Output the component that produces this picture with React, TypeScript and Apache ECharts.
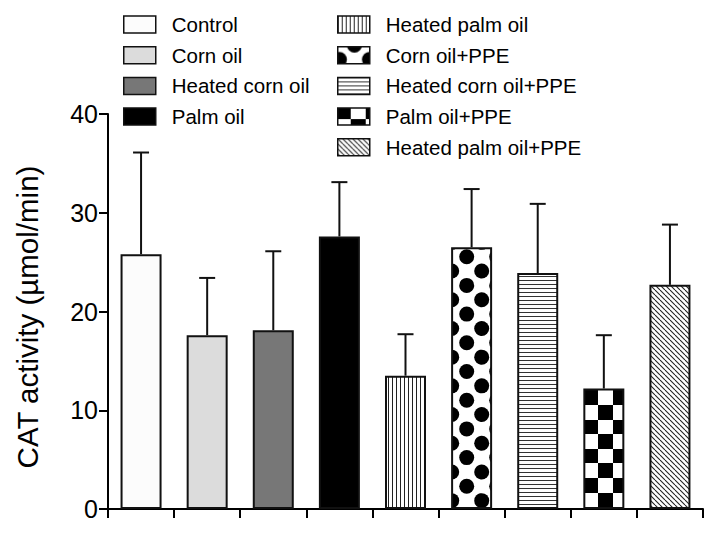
import React, { useEffect, useRef } from "react";
import * as echarts from "echarts";

const categories = [
  "Control",
  "Corn oil",
  "Heated corn oil",
  "Palm oil",
  "Heated palm oil",
  "Corn oil+PPE",
  "Heated corn oil+PPE",
  "Palm oil+PPE",
  "Heated palm oil+PPE",
];
const means = [25.8, 17.6, 18.1, 27.6, 13.5, 26.5, 23.9, 12.2, 22.7];
const sds = [10.3, 5.8, 8.0, 5.5, 4.2, 5.9, 7.0, 5.4, 6.1];
const yTicks = [0, 10, 20, 30, 40];
const leftLegend = categories.slice(0, 4);
const rightLegend = categories.slice(4);
const yTitle = "CAT activity (\u00b5mol/min)";

function tile(w: number, h: number, draw: (c: CanvasRenderingContext2D) => void) {
  const cv = document.createElement("canvas");
  cv.width = w;
  cv.height = h;
  const c = cv.getContext("2d")!;
  c.fillStyle = "#ffffff";
  c.fillRect(0, 0, w, h);
  draw(c);
  return { image: cv, repeat: "repeat", imageWidth: w, imageHeight: h } as any;
}

const par = (n: number) => ((n % 2) + 2) % 2;

export default function App() {
  const ref = useRef<HTMLDivElement>(null);
  useEffect(() => {
    if (!ref.current) return;
    const chart = echarts.init(ref.current, null, { renderer: "svg" });

    const vLines = tile(4, 4, (c) => {
      c.fillStyle = "#222";
      c.fillRect(0, 0, 1, 4);
    });
    // staggered dots: period 30 horizontally, 28.7 vertically
    const dots = tile(30, 287, (c) => {
      c.fillStyle = "#000";
      for (let k = -12; k <= 12; k++) {
        for (const dx of [-30, 0, 30]) {
          const ya = (256.7 % 287) + 28.7 * k;
          const yb = ya + 14.35;
          c.beginPath();
          c.arc(16.7 + dx, ya, 7.5, 0, Math.PI * 2);
          c.fill();
          c.beginPath();
          c.arc(1.7 + dx, yb, 7.5, 0, Math.PI * 2);
          c.fill();
        }
      }
    });
    const hLines = tile(4, 4, (c) => {
      c.fillStyle = "#333";
      c.fillRect(0, 0, 4, 1);
    });
    // checkerboard: cells 15 wide, 14.6 tall
    const checker = tile(30, 146, (c) => {
      c.fillStyle = "#000";
      for (let y = 0; y < 146; y++) {
        const r = Math.floor((y + 0.5 - 98.4) / 14.6);
        for (let x = 0; x < 30; x++) {
          const col = Math.floor((x + 0.5 - 13) / 15);
          if (par(r + col) === 0) c.fillRect(x, y, 1, 1);
        }
      }
    });
    const diag = tile(5, 5, (c) => {
      c.strokeStyle = "#222";
      c.lineWidth = 1.1;
      for (let k = -1; k <= 1; k++) {
        c.beginPath();
        c.moveTo(k * 5, 0);
        c.lineTo(k * 5 + 5, 5);
        c.stroke();
      }
    });

    const fills: any[] = ["#fcfcfc", "#dcdcdc", "#777777", "#000000", vLines, dots, hLines, checker, diag];

    const barSeries = categories.map((name, i) => ({
      name,
      type: "bar",
      barWidth: 41,
      barGap: "-100%",
      data: categories.map((_, j) => (j === i ? means[i] : "-")),
      itemStyle: { color: fills[i], borderColor: "#111", borderWidth: 2 },
      silent: true,
    }));

    const errData = means.map((m, i) => [i, m, sds[i]]);

    const legendCommon = {
      orient: "vertical",
      top: 14,
      padding: 0,
      itemWidth: 32,
      itemHeight: 17,
      itemGap: 9.7,
      icon: "rect",
      selectedMode: false,
      itemStyle: { borderColor: "#111", borderWidth: 1.5 },
      textStyle: {
        fontSize: 20.5,
        lineHeight: 20,
        color: "#000",
        fontFamily: "Liberation Sans, Arial, sans-serif",
        padding: [0, 0, 0, 11],
      },
    };

    chart.setOption({
      animation: false,
      backgroundColor: "#ffffff",
      grid: { left: 108, right: 16, top: 114, bottom: 25, containLabel: false },
      legend: [
        { ...legendCommon, left: 123, data: leftLegend },
        { ...legendCommon, left: 337, data: rightLegend },
      ],
      xAxis: {
        type: "category",
        data: categories,
        boundaryGap: true,
        axisLine: { lineStyle: { color: "#000", width: 2 } },
        axisTick: { show: true, length: 9, interval: 0, alignWithLabel: false, lineStyle: { color: "#000", width: 2 } },
        axisLabel: { show: false },
      },
      yAxis: {
        type: "value",
        min: yTicks[0],
        max: yTicks[yTicks.length - 1],
        interval: 10,
        axisLine: { show: true, lineStyle: { color: "#000", width: 2 } },
        axisTick: { show: true, length: 9, lineStyle: { color: "#000", width: 2 } },
        axisLabel: {
          fontSize: 25,
          color: "#000",
          margin: 10,
          fontFamily: "Liberation Sans, Arial, sans-serif",
        },
        splitLine: { show: false },
      },
      graphic: [
        {
          type: "text",
          x: 27,
          y: 317,
          rotation: Math.PI / 2,
          style: {
            text: yTitle,
            fontSize: 29.5,
            fontFamily: "Liberation Sans, Arial, sans-serif",
            fill: "#000",
            align: "center",
            verticalAlign: "middle",
            textAlign: "center",
            textVerticalAlign: "middle",
          },
        },
      ],
      series: [
        ...barSeries,
        {
          type: "custom",
          name: "err",
          silent: true,
          encode: { x: 0, y: 1 },
          data: errData,
          z: 3,
          renderItem: (params: any, api: any) => {
            const x = api.value(0);
            const m = api.value(1);
            const s = api.value(2);
            const p0 = api.coord([x, m]);
            const p1 = api.coord([x, m + s]);
            return {
              type: "group",
              children: [
                {
                  type: "line",
                  shape: { x1: p0[0], y1: p0[1], x2: p1[0], y2: p1[1] },
                  style: { stroke: "#111", lineWidth: 2 },
                },
                {
                  type: "line",
                  shape: { x1: p1[0] - 8, y1: p1[1], x2: p1[0] + 8, y2: p1[1] },
                  style: { stroke: "#111", lineWidth: 2 },
                },
              ],
            };
          },
        },
      ],
    } as any);

    return () => chart.dispose();
  }, []);

  return (
    <div
      ref={ref}
      style={{ position: "fixed", left: 0, top: 0, width: 719, height: 534, background: "#fff" }}
    />
  );
}
